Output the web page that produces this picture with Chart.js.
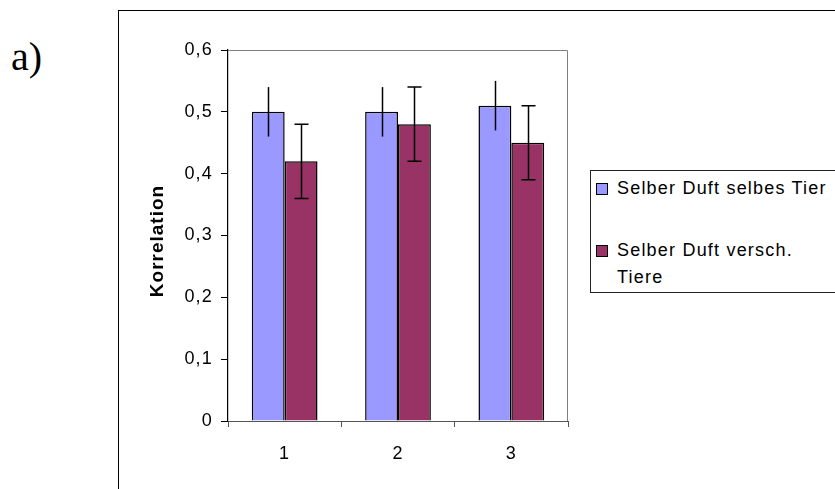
<!DOCTYPE html>
<html>
<head>
  <title>Korrelation</title>
  <script src="https://cdn.jsdelivr.net/npm/chart.js"></script>
  <style>
    body {
      margin: 0;
      width: 835px;
      height: 489px;
      overflow: hidden;
      background: #fff;
      font-family: 'Liberation Sans', Arial, sans-serif;
    }

    .frame {
      position: absolute;
      left: 118px;
      top: 10px;
      width: 800px;
      height: 600px;
      border: 1.5px solid #000;
    }

    .panel-label {
      position: absolute;
      left: 11px;
      top: 33px;
      font-family: 'Liberation Serif', 'Times New Roman', serif;
      font-size: 40px;
      line-height: 48px;
      color: #000;
    }

    #chart {
      position: absolute;
      left: 0;
      top: 0;
    }

    .legend {
      position: absolute;
      left: 590px;
      top: 170px;
      width: 300px;
      height: 121px;
      border: 1px solid #222;
      background: #fff;
    }

    .legend-item {
      position: absolute;
      left: 26px;
      width: 216px;
      font-size: 18px;
      line-height: 27px;
      letter-spacing: 1.2px;
      color: #000;
    }

    .legend-swatch {
      position: absolute;
      left: -21px;
      top: 8px;
      width: 10px;
      height: 10px;
      border: 1px solid #000;
    }
  </style>
</head>
<body>
  <div class="frame"></div>
  <div class="panel-label">a)</div>
  <canvas id="chart" width="835" height="489"></canvas>
  <div class="legend" id="legend"></div>

  <script>
    // data
    const categories = ['1', '2', '3'];
    const seriesNames = ['Selber Duft selbes Tier', 'Selber Duft versch. Tiere'];
    const sameAnimal = [0.50, 0.50, 0.51];
    const sameAnimalErr = [0.04, 0.04, 0.04];
    const otherAnimals = [0.42, 0.48, 0.45];
    const otherAnimalsErr = [0.06, 0.06, 0.06];
    const yTickValues = [0, 0.1, 0.2, 0.3, 0.4, 0.5, 0.6];
    const yTickLabels = ['0', '0,1', '0,2', '0,3', '0,4', '0,5', '0,6'];
    const yTitle = 'Korrelation';

    const colors = ['#9999ff', '#993366'];
    const errors = [sameAnimalErr, otherAnimalsErr];
    const capWidths = [0, 14];

    // legend built from the series names
    const legend = document.getElementById('legend');
    const legendTops = [4, 66];
    seriesNames.forEach((name, i) => {
      const item = document.createElement('div');
      item.className = 'legend-item';
      item.style.top = legendTops[i] + 'px';
      item.innerHTML = '<span class="legend-swatch" style="background:' + colors[i] + '"></span>' + name;
      legend.appendChild(item);
    });

    const spacing = {
      id: 'spacing',
      beforeDraw(chart) {
        chart.ctx.letterSpacing = '1.2px';
      }
    };

    const plotFrame = {
      id: 'plotFrame',
      beforeDatasetsDraw(chart) {
        const a = chart.chartArea;
        const ctx = chart.ctx;
        ctx.save();
        ctx.strokeStyle = '#808080';
        ctx.lineWidth = 1;
        ctx.beginPath();
        ctx.moveTo(a.left, a.top + 0.5);
        ctx.lineTo(a.right - 0.5, a.top + 0.5);
        ctx.lineTo(a.right - 0.5, a.bottom);
        ctx.stroke();
        ctx.restore();
      }
    };

    // y title drawn by hand so it sits where the original has it
    const axisTitle = {
      id: 'axisTitle',
      afterDraw(chart) {
        const ctx = chart.ctx;
        ctx.save();
        ctx.letterSpacing = '1px';
        ctx.translate(158, 241);
        ctx.rotate(-Math.PI / 2);
        ctx.font = "bold 19px 'Liberation Sans', Arial, sans-serif";
        ctx.fillStyle = '#000';
        ctx.textAlign = 'center';
        ctx.textBaseline = 'middle';
        ctx.fillText(yTitle, 0, 0);
        ctx.restore();
      }
    };

    const errorBars = {
      id: 'errorBars',
      afterDatasetsDraw(chart) {
        const ctx = chart.ctx;
        const y = chart.scales.y;
        ctx.save();
        ctx.strokeStyle = '#000';
        ctx.lineWidth = 1.5;
        chart.data.datasets.forEach((ds, d) => {
          const meta = chart.getDatasetMeta(d);
          meta.data.forEach((bar, i) => {
            const v = ds.data[i];
            const e = errors[d][i];
            const top = y.getPixelForValue(v + e);
            const bottom = y.getPixelForValue(v - e);
            const x = Math.round(bar.x) + 0.5;
            ctx.beginPath();
            ctx.moveTo(x, top);
            ctx.lineTo(x, bottom);
            const c = capWidths[d] / 2;
            if (c > 0) {
              ctx.moveTo(x - c, top);
              ctx.lineTo(x + c, top);
              ctx.moveTo(x - c, bottom);
              ctx.lineTo(x + c, bottom);
            }
            ctx.stroke();
          });
        });
        ctx.restore();
      }
    };

    new Chart(document.getElementById('chart'), {
      type: 'bar',
      data: {
        labels: categories,
        datasets: [
          {
            label: seriesNames[0],
            data: sameAnimal,
            backgroundColor: colors[0],
            borderColor: '#000',
            borderWidth: 1.5,
            categoryPercentage: 0.58,
            barPercentage: 1.0
          },
          {
            label: seriesNames[1],
            data: otherAnimals,
            backgroundColor: colors[1],
            borderColor: '#000',
            borderWidth: 1.5,
            categoryPercentage: 0.58,
            barPercentage: 1.0
          }
        ]
      },
      options: {
        responsive: false,
        animation: false,
        layout: {
          padding: { left: 120, top: 50, right: 267, bottom: 10 }
        },
        plugins: {
          legend: { display: false },
          tooltip: { enabled: false }
        },
        scales: {
          x: {
            afterFit: s => { s.height = 58; },
            grid: {
              offset: true,
              drawOnChartArea: false,
              tickLength: 6,
              color: '#555'
            },
            border: { color: '#555', width: 1 },
            ticks: {
              color: '#000',
              padding: 16,
              font: { family: "'Liberation Sans', Arial, sans-serif", size: 18 }
            }
          },
          y: {
            min: 0,
            max: 0.6,
            afterFit: s => { s.width = 108; },
            afterBuildTicks: s => { s.ticks = yTickValues.map(v => ({ value: v })); },
            grid: {
              drawOnChartArea: false,
              tickLength: 7,
              color: '#000'
            },
            border: { color: '#000', width: 1.2 },
            ticks: {
              color: '#000',
              padding: 8,
              font: { family: "'Liberation Sans', Arial, sans-serif", size: 18 },
              callback: (v, i) => yTickLabels[i]
            }
          }
        }
      },
      plugins: [spacing, plotFrame, errorBars, axisTitle]
    });
  </script>
</body>
</html>
